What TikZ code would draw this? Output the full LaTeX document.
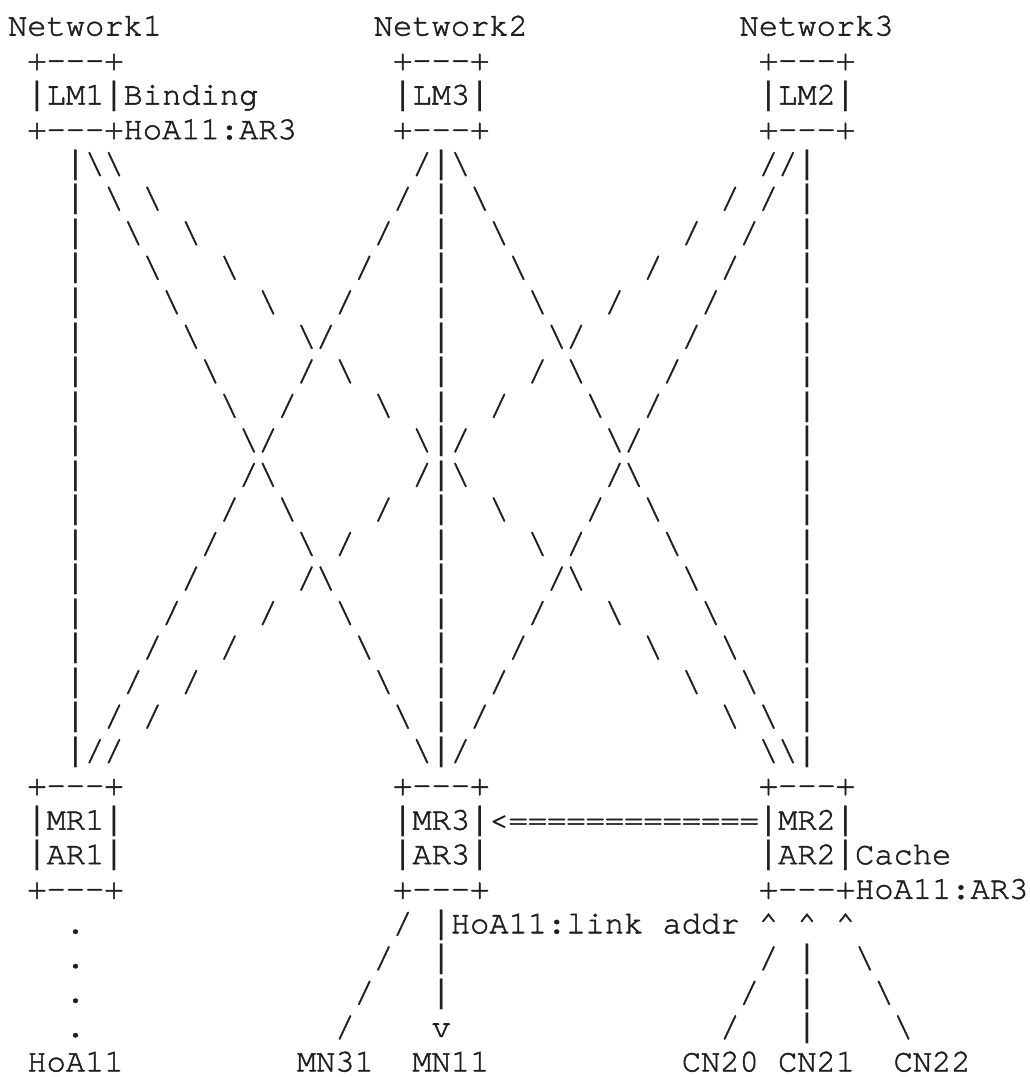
\documentclass[tikz,border=0pt]{standalone}
\usepackage{fontspec}
\usepackage{graphicx}
\setmonofont{texgyrecursor-regular.otf}[FakeBold=1.6]
\newfontfamily\barfont{DejaVu Sans Mono}
\newcommand\cellat[4]{\node[asc] (#1) at (#2,#3) {#4};}
\newcommand\bs{\textbackslash}
\newcommand\vb{\raisebox{0.25pt}{\scalebox{1}[0.96]{\barfont|}}}
\begin{document}
\begin{tikzpicture}[x=19.25pt,y=-34.53pt,
  asc/.style={anchor=base west,inner sep=0pt,outer sep=0pt,
    font=\ttfamily\fontsize{32.08pt}{34.53pt}\selectfont,text=black!88}]
\useasboundingbox[fill=white] (-8.1pt,35.5pt) rectangle ++(1029pt,-1077pt);
% ---- header: networks and location managers
\cellat{net1}{0}{0}{Network1}
\cellat{net2}{19}{0}{Network2}
\cellat{net3}{38}{0}{Network3}
\cellat{lm1t}{1}{1}{+---+}
\cellat{lm3t}{20}{1}{+---+}
\cellat{lm2t}{39}{1}{+---+}
\cellat{lm1}{1}{2}{\vb LM1\vb}
\cellat{lm3}{20}{2}{\vb LM3\vb}
\cellat{lm2}{39}{2}{\vb LM2\vb}
\cellat{bind1}{6}{2}{Binding}
\cellat{lm1b}{1}{3}{+---+}
\cellat{bind2}{6}{3}{HoA11:AR3}
\cellat{lm3b}{20}{3}{+---+}
\cellat{lm2b}{39}{3}{+---+}
% ---- links between LMs and MRs (rows 4..21)
\foreach \L in {4,...,21}{
  \node[asc] (vA\L) at (3,\L) {\vb};
  \node[asc] (vB\L) at (22,\L) {\vb};
  \node[asc] (vC\L) at (41,\L) {\vb};
  \node[asc] (lnA\L) at ({\L},{\L}) {\bs};
  \node[asc] (lnB\L) at ({2*\L-3},{\L}) {\bs};
  \node[asc] (lnC\L) at ({25-\L},{\L}) {/};
  \node[asc] (lnD\L) at ({\L+19},{\L}) {\bs};
  \node[asc] (lnE\L) at ({47-2*\L},{\L}) {/};
  \node[asc] (lnF\L) at ({44-\L},{\L}) {/};
}
% ---- MR / AR boxes
\cellat{mr1t}{1}{22}{+---+}
\cellat{mr3t}{20}{22}{+---+}
\cellat{mr2t}{39}{22}{+---+}
\cellat{mr1}{1}{23}{\vb MR1\vb}
\cellat{mr3}{20}{23}{\vb MR3\vb}
\cellat{tun}{25}{23}{<=============}
\cellat{mr2}{39}{23}{\vb MR2\vb}
\cellat{ar1}{1}{24}{\vb AR1\vb}
\cellat{ar3}{20}{24}{\vb AR3\vb}
\cellat{ar2}{39}{24}{\vb AR2\vb}
\cellat{cache1}{44}{24}{Cache}
\cellat{ar1b}{1}{25}{+---+}
\cellat{ar3b}{20}{25}{+---+}
\cellat{ar2b}{39}{25}{+---+}
\cellat{cache2}{44}{25}{HoA11:AR3}
% ---- lower links
\foreach \r in {26,...,29}{
  \node[asc] (dot\r) at (3,\r) {.};
  \node[asc] (mn31l\r) at ({46-\r},\r) {/};
}
\foreach \r in {27,28,29}{
  \node[asc] (cn20l\r) at ({66-\r},\r) {/};
  \node[asc] (cn22l\r) at ({\r+17},\r) {\bs};
}
\cellat{mn11l26}{22}{26}{\vb}
\cellat{lladdr}{23}{26}{HoA11:link addr}
\cellat{mn11l27}{22}{27}{\vb}
\cellat{mn11l28}{22}{28}{\vb}
\cellat{mn11arr}{22}{29}{v}
\cellat{cn20arr}{39}{26}{\textasciicircum}
\cellat{cn21arr}{41}{26}{\textasciicircum}
\cellat{cn22arr}{43}{26}{\textasciicircum}
\cellat{cn21l27}{41}{27}{\vb}
\cellat{cn21l28}{41}{28}{\vb}
\cellat{cn21l29}{41}{29}{\vb}
% ---- end nodes
\cellat{hoa}{1}{30}{HoA11}
\cellat{mn31}{15}{30}{MN31}
\cellat{mn11}{21}{30}{MN11}
\cellat{cn20}{35}{30}{CN20}
\cellat{cn21}{40}{30}{CN21}
\cellat{cn22}{46}{30}{CN22}
\end{tikzpicture}
\end{document}
